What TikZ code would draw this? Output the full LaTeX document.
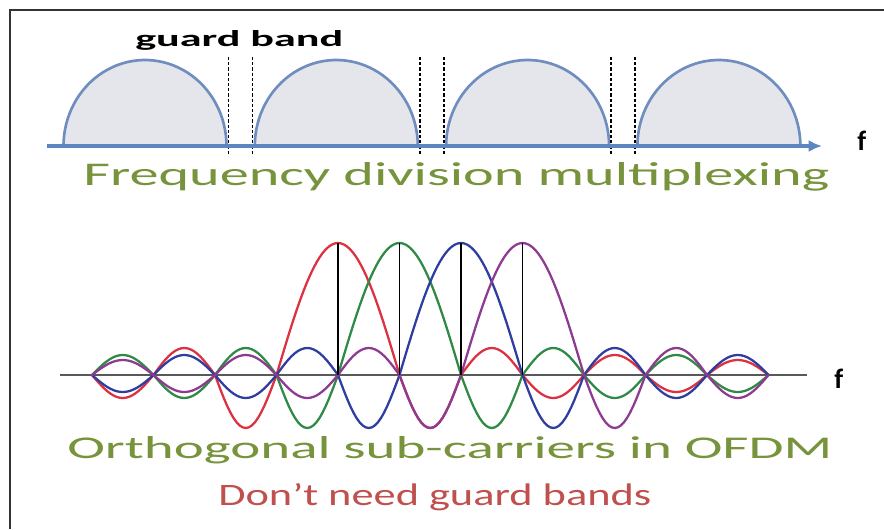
\documentclass[tikz,border=0pt]{standalone}
\usepackage{fontspec}
\setmainfont{Carlito}
\usetikzlibrary{arrows.meta}

\newlength\pxu
\setlength\pxu{0.75pt}

\definecolor{fdmgreen}{HTML}{77933C}
\definecolor{guardred}{HTML}{C0504D}
\definecolor{humpfill}{HTML}{E4E6EB}
\definecolor{humpline}{HTML}{6F8EBF}
\definecolor{axisblue}{HTML}{5B86C0}
\definecolor{subred}{HTML}{DC3140}
\definecolor{subgreen}{HTML}{2F8A45}
\definecolor{subblue}{HTML}{2E3DA0}
\definecolor{subpurple}{HTML}{8E3A90}

\begin{document}
\begin{tikzpicture}[x=0.75pt, y=-0.75pt,
    frame/.style={draw=black!80, line width=1.2pt},
    hump/.style={draw=humpline, line width=2pt, fill=humpfill},
    guard/.style={black, line width=1.4pt, dash pattern=on 2.4pt off 1.5pt},
    fdmaxis/.style={draw=axisblue, line width=2.4pt, -{Latex[length=10pt, width=9pt]}},
    ofdmaxis/.style={draw=black!65, line width=1.2pt},
    peakline/.style={black, line width=1.1pt},
    carrier/.style={line width=1.7pt, line cap=round, line join=round},
    txt/.style={inner sep=0pt, anchor=base west}]

    \useasboundingbox (0,0) rectangle (884,529);

    % Frame on the left and top
    \draw[frame] (10,529) -- (10,10) -- (884,10);

    % FDM: four separate bands
    \foreach \i in {0,...,3} {
        \pgfmathsetmacro{\cx}{145+191.3*\i}
        \draw[hump] plot[domain=180:360, samples=50] ({\cx+81.5*cos(\x)},{146+86*sin(\x)}) -- cycle;
    }

    % Guard bands between the bands
    \foreach \i in {0,...,2} {
        \pgfmathsetmacro{\gx}{240.5+191.3*\i}
        \draw[guard] (\gx-12,57) -- (\gx-12,155);
        \draw[guard] (\gx+12,57) -- (\gx+12,155);
    }

    % Frequency axis (FDM)
    \coordinate (fdmstart) at (47,146);
    \coordinate (fdmend) at (822,146);
    \draw[fdmaxis] (fdmstart) -- (fdmend);

    \node[txt, font=\bfseries] (guardlabel) at (135,46) {\resizebox{208\pxu}{16\pxu}{guard band}};
    \node[txt, font=\bfseries\fontsize{21}{21}\selectfont] (fdmf) at (857,150) {f};
    \node[txt, text=fdmgreen] (fdmlabel) at (83,185) {\resizebox{746\pxu}{23\pxu}{Frequency division multiplexing}};

    % Frequency axis (OFDM)
    \coordinate (ofdmstart) at (60,375);
    \coordinate (ofdmend) at (807,375);
    \draw[ofdmaxis] (ofdmstart) -- (ofdmend);

    % Orthogonal sub-carriers
    \foreach \c/\col in {4/subred,5/subgreen,6/subblue,7/subpurple} {
        \foreach \j in {0,...,10} {
            \pgfmathtruncatemacro{\lobe}{abs(\j+0.5-\c)-1.5}
            \ifnum\j=\numexpr\c-1\relax
                \draw[carrier,\col] plot[domain=0:2, samples=41, variable=\t] ({92+61.5*(\j+\t)},{375-132*sin(90*\t)});
            \else\ifnum\lobe>-1
                \pgfmathsetmacro{\amp}{{53,27,23,20,17,15,13,12}[\lobe]}
                \pgfmathsetmacro{\sgn}{mod(\lobe,2)==0 ? 1 : -1}
                \draw[carrier,\col] plot[domain=0:1, samples=21, variable=\t] ({92+61.5*(\j+\t)},{375+\sgn*\amp*sin(180*\t)});
            \fi\fi
        }
    }

    % Peak markers
    \foreach \c in {4,...,7} {
        \coordinate (peak\c) at ({92+61.5*\c},243);
        \coordinate (foot\c) at ({92+61.5*\c},375);
        \draw[peakline] (foot\c) -- (peak\c);
    }

    \node[txt, font=\bfseries\fontsize{21}{21}\selectfont] (ofdmf) at (834,388) {f};
    \node[txt, text=fdmgreen] (ofdmlabel) at (67,458) {\resizebox{765\pxu}{22\pxu}{Orthogonal sub-carriers in OFDM}};
    \node[txt, text=guardred] (noguard) at (218,505) {\resizebox{433\pxu}{22\pxu}{Don’t need guard bands}};

\end{tikzpicture}
\end{document}
